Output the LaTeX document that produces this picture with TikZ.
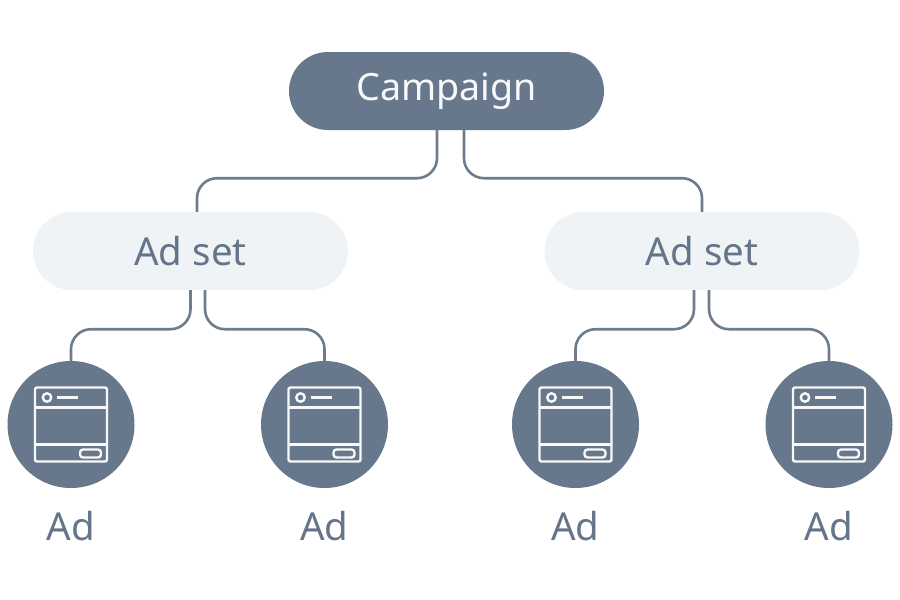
\documentclass[tikz,border=0pt]{standalone}
\usepackage{fontspec}
\setmainfont{Noto Sans}
\definecolor{slate}{HTML}{67788C}
\definecolor{pale}{HTML}{F0F3F6}
\definecolor{wire}{HTML}{6E7C8B}
\definecolor{ink}{HTML}{64758A}
\tikzset{
  x=1pt,y=-1pt,
  campbox/.style={draw=none,fill=slate,rounded corners=38.9pt,minimum width=315pt,minimum height=78pt,inner sep=0pt,text=white!95!slate,font=\fontsize{37.6}{37.6}\selectfont},
  setbox/.style={draw=none,fill=pale,rounded corners=38.9pt,minimum width=315pt,minimum height=78pt,inner sep=0pt,text=ink,font=\fontsize{38.5}{38.5}\selectfont},
  adcircle/.style={circle,draw=none,fill=slate,minimum size=127pt,inner sep=0pt},
  adlabel/.style={text=ink,inner sep=0pt,font=\fontsize{38.5}{38.5}\selectfont},
  conn/.style={draw=wire,line width=2.6pt,rounded corners=20pt},
  iconline/.style={draw=white!95!slate,line width=2.4pt,line join=round},
  pics/adicon/.style={code={
    \draw[iconline,rounded corners=2pt] (-36,-37) rectangle (36,37);
    \draw[iconline] (-36,-17) -- (36,-17);
    \draw[iconline] (-36,20) -- (36,20);
    \draw[iconline] (-24,-27) circle (4.2);
    \draw[iconline] (-14,-27) -- (7,-27);
    \draw[iconline,rounded corners=3pt] (9,25) rectangle (30,33);
  }}
}
\begin{document}
\begin{tikzpicture}
\useasboundingbox[fill=white] (0,0) rectangle (900,600);
\node[campbox] (camp) at (446.5,91) {Campaign};
\node[setbox] (setA) at (190.5,251) {Ad set};
\node[setbox] (setB) at (702,251) {Ad set};
\node[adcircle] (adA) at (71,424.5) {};
\node[adcircle] (adB) at (324.5,424.5) {};
\node[adcircle] (adC) at (575.5,424.5) {};
\node[adcircle] (adD) at (829,424.5) {};
\pic at (adA) {adicon};
\pic at (adB) {adicon};
\pic at (adC) {adicon};
\pic at (adD) {adicon};
\node[adlabel] (labA) at (71,526) {Ad};
\node[adlabel] (labB) at (324.5,526) {Ad};
\node[adlabel] (labC) at (575.5,526) {Ad};
\node[adlabel] (labD) at (829,526) {Ad};
\draw[conn] ([xshift=-9.5pt]camp.south) -- ++(0,48) -| ([xshift=6.5pt]setA.north);
\draw[conn] ([xshift=17.5pt]camp.south) -- ++(0,48) -| (setB.north);
\draw[conn] (setA.south) -- ++(0,39) -| (adA.north);
\draw[conn] ([xshift=14.5pt]setA.south) -- ++(0,39) -| (adB.north);
\draw[conn] ([xshift=-8pt]setB.south) -- ++(0,39) -| (adC.north);
\draw[conn] ([xshift=7pt]setB.south) -- ++(0,39) -| (adD.north);
\end{tikzpicture}
\end{document}
